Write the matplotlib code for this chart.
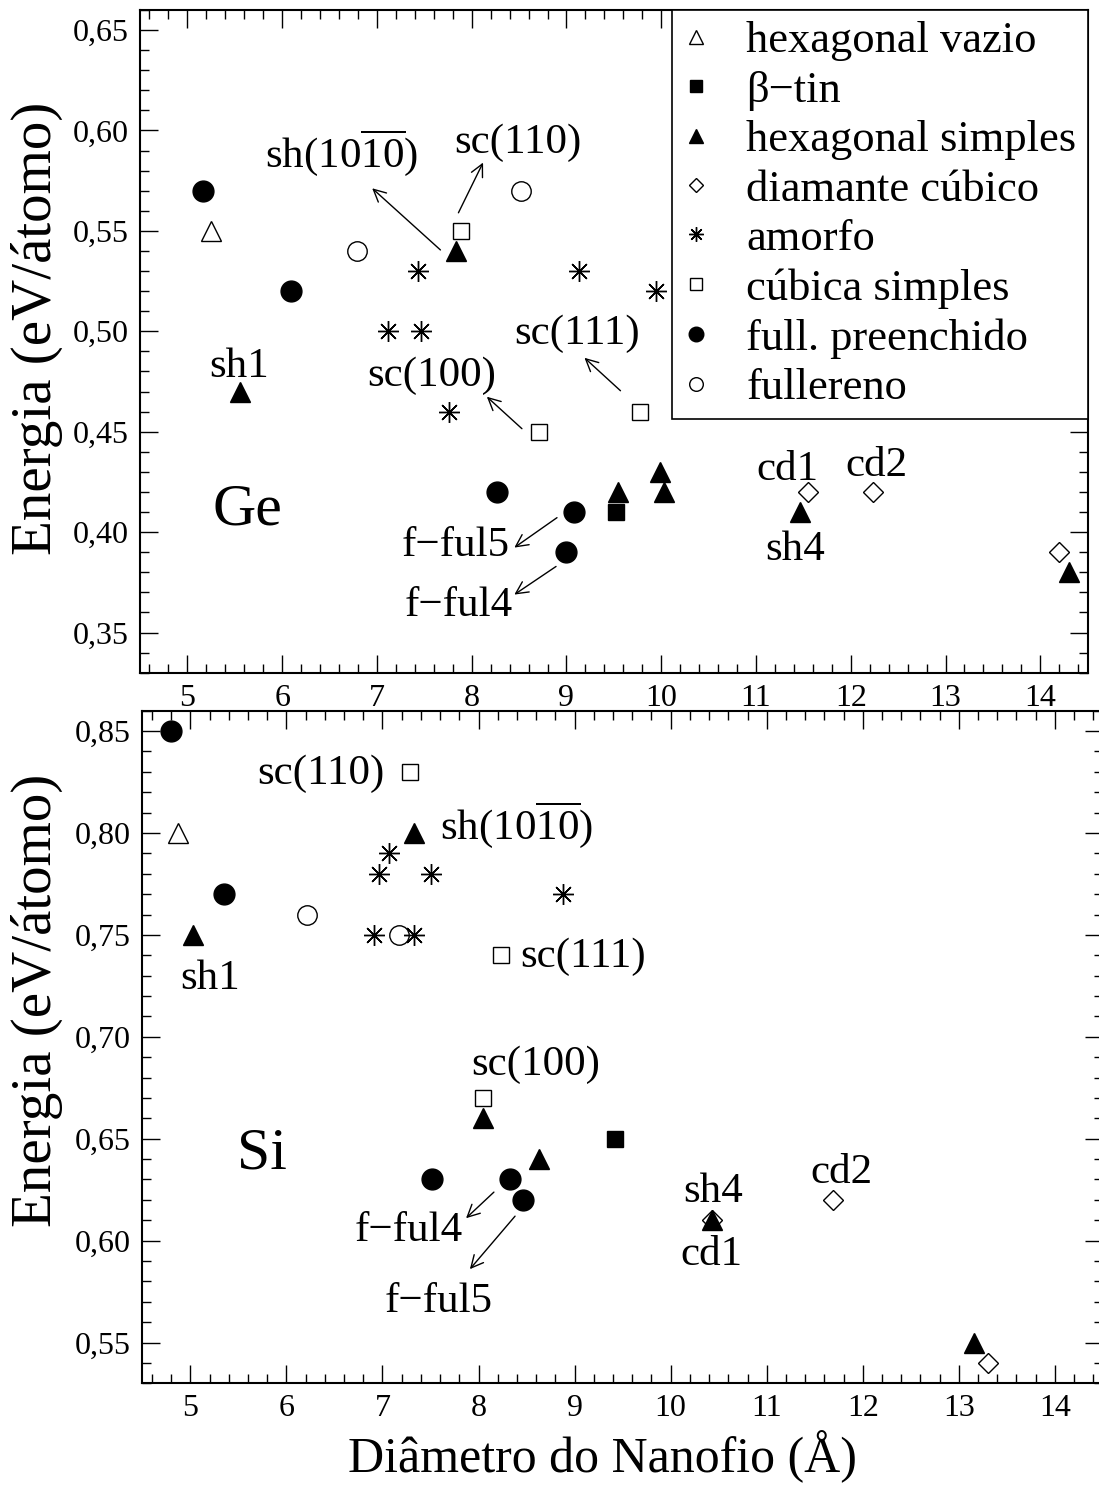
import matplotlib
matplotlib.use('Agg')
from matplotlib import pyplot as plt
from matplotlib.ticker import MultipleLocator, FuncFormatter

plt.rcParams['font.family'] = 'Liberation Serif'
plt.rcParams['mathtext.fontset'] = 'custom'
plt.rcParams['mathtext.rm'] = 'Liberation Serif'
plt.rcParams['mathtext.it'] = 'Liberation Serif:italic'
plt.rcParams['mathtext.bf'] = 'Liberation Serif:bold'

# Legend labels (same order for both panels)
labels = ['hexagonal vazio', 'β−tin', 'hexagonal simples', 'diamante cúbico',
          'amorfo', 'cúbica simples', 'full. preenchido', 'fullereno']

# Ge data (diameter in Angstrom, energy in eV/atom)
ge_hv_x = [5.25]
ge_hv_y = [0.55]
ge_btin_x = [9.52]
ge_btin_y = [0.41]
ge_hs_x = [5.55, 7.83, 9.54, 9.99, 10.03, 11.46, 14.30]
ge_hs_y = [0.47, 0.54, 0.42, 0.43, 0.42, 0.41, 0.38]
ge_cd_x = [11.55, 12.23, 14.20]
ge_cd_y = [0.42, 0.42, 0.39]
ge_am_x = [7.43, 7.12, 7.47, 7.76, 9.13, 9.94]
ge_am_y = [0.53, 0.50, 0.50, 0.46, 0.53, 0.52]
ge_sc_x = [7.89, 8.71, 9.78]
ge_sc_y = [0.55, 0.45, 0.46]
ge_fp_x = [5.16, 6.09, 8.27, 9.08, 9.00]
ge_fp_y = [0.57, 0.52, 0.42, 0.41, 0.39]
ge_fu_x = [6.79, 8.52]
ge_fu_y = [0.54, 0.57]

# Si data
si_hv_x = [4.87]
si_hv_y = [0.80]
si_btin_x = [9.42]
si_btin_y = [0.65]
si_hs_x = [5.03, 7.33, 8.05, 8.63, 10.43, 13.16]
si_hs_y = [0.75, 0.80, 0.66, 0.64, 0.61, 0.55]
si_cd_x = [10.43, 11.69, 13.30]
si_cd_y = [0.61, 0.62, 0.54]
si_am_x = [7.07, 6.96, 7.50, 8.88, 6.91, 7.33]
si_am_y = [0.79, 0.78, 0.78, 0.77, 0.75, 0.75]
si_sc_x = [7.29, 8.23, 8.05]
si_sc_y = [0.83, 0.74, 0.67]
si_fp_x = [4.80, 5.35, 7.52, 8.33, 8.46]
si_fp_y = [0.85, 0.77, 0.63, 0.63, 0.62]
si_fu_x = [6.21, 7.17]
si_fu_y = [0.76, 0.75]

ge_series = [(ge_hv_x, ge_hv_y), (ge_btin_x, ge_btin_y), (ge_hs_x, ge_hs_y), (ge_cd_x, ge_cd_y),
             (ge_am_x, ge_am_y), (ge_sc_x, ge_sc_y), (ge_fp_x, ge_fp_y), (ge_fu_x, ge_fu_y)]
si_series = [(si_hv_x, si_hv_y), (si_btin_x, si_btin_y), (si_hs_x, si_hs_y), (si_cd_x, si_cd_y),
             (si_am_x, si_am_y), (si_sc_x, si_sc_y), (si_fp_x, si_fp_y), (si_fu_x, si_fu_y)]

# marker styles, one per series
styles = [
    dict(marker='^', ms=15, mfc='none', mec='k', mew=1.0),
    dict(marker='s', ms=12, mfc='k', mec='k', mew=1.0),
    dict(marker='^', ms=15, mfc='k', mec='k', mew=1.0),
    dict(marker='D', ms=10, mfc='none', mec='k', mew=1.0),
    dict(marker=(8, 2, 0), ms=15, mfc='none', mec='k', mew=1.0),
    dict(marker='s', ms=12, mfc='none', mec='k', mew=1.0),
    dict(marker='o', ms=15, mfc='k', mec='k', mew=1.0),
    dict(marker='o', ms=14, mfc='none', mec='k', mew=1.0),
]

# annotation texts: (text, x, y, ha)
ge_notes = [
    (r'sh(10$\overline{10}$)', 5.82, 0.5818, 'left'),
    ('sc(110)', 7.82, 0.5887, 'left'),
    ('sc(111)', 8.45, 0.4935, 'left'),
    ('sc(100)', 6.90, 0.4729, 'left'),
    ('sh1', 5.55, 0.4774, 'center'),
    ('f−ful5', 8.40, 0.3880, 'right'),
    ('f−ful4', 8.43, 0.3581, 'right'),
    ('cd1', 11.33, 0.4261, 'center'),
    ('cd2', 12.27, 0.4278, 'center'),
    ('sh4', 11.41, 0.3863, 'center'),
]
ge_arrows = [
    ((7.67, 0.5405), (6.95, 0.5712)),
    ((7.86, 0.559), (8.12, 0.584)),
    ((9.57, 0.4704), (9.19, 0.4868)),
    ((8.53, 0.4515), (8.16, 0.4674)),
    ((8.90, 0.4072), (8.45, 0.3923)),
    ((8.89, 0.3829), (8.45, 0.3689)),
]
si_notes = [
    ('sc(110)', 7.02, 0.8243, 'right'),
    (r'sh(10$\overline{10}$)', 7.60, 0.7973, 'left'),
    ('sh1', 5.21, 0.7237, 'center'),
    ('sc(111)', 8.43, 0.7343, 'left'),
    ('sc(100)', 8.59, 0.6812, 'center'),
    ('f−ful4', 7.84, 0.6000, 'right'),
    ('f−ful5', 8.15, 0.5651, 'right'),
    ('sh4', 10.44, 0.6190, 'center'),
    ('cd1', 10.42, 0.5880, 'center'),
    ('cd2', 11.78, 0.6284, 'center'),
]
si_arrows = [
    ((8.16, 0.6238), (7.87, 0.611)),
    ((8.38, 0.612), (7.91, 0.586)),
]


def comma_fmt(v, pos):
    return '{:.2f}'.format(v).replace('.', ',')


def setup_axes(ax, ylim):
    ax.set_xlim(4.5, 14.5)
    ax.set_ylim(*ylim)
    ax.xaxis.set_major_locator(MultipleLocator(1))
    ax.xaxis.set_minor_locator(MultipleLocator(0.2))
    ax.yaxis.set_major_locator(MultipleLocator(0.05))
    ax.yaxis.set_minor_locator(MultipleLocator(0.01))
    ax.yaxis.set_major_formatter(FuncFormatter(comma_fmt))
    ax.tick_params(which='both', direction='in', top=True, right=True, labelsize=23, width=1.0)
    ax.tick_params(which='major', length=13, pad=8)
    ax.tick_params(which='minor', length=6.5)
    for sp in ax.spines.values():
        sp.set_linewidth(1.5)


def draw_panel(ax, series, notes, arrows):
    handles = []
    for (xs, ys), st, lab in zip(series, styles, labels):
        h, = ax.plot(xs, ys, linestyle='none', label=lab, **st)
        handles.append(h)
    for txt, x, y, ha in notes:
        ax.text(x, y, txt, fontsize=31, ha=ha, va='baseline')
    for tail, tip in arrows:
        ax.annotate('', xy=tip, xytext=tail,
                    arrowprops=dict(arrowstyle='->', lw=1.0, color='k',
                                    shrinkA=0, shrinkB=0, mutation_scale=22))
    return handles


fig = plt.figure(figsize=(10.99, 14.85), dpi=100)
ax1 = fig.add_axes([0.1274, 0.547, 0.8623, 0.4463])
ax2 = fig.add_axes([0.1295, 0.0685, 0.8741, 0.4529])

setup_axes(ax1, (0.33, 0.66))
setup_axes(ax2, (0.53, 0.86))

handles = draw_panel(ax1, ge_series, ge_notes, ge_arrows)
draw_panel(ax2, si_series, si_notes, si_arrows)

ax1.text(5.26, 0.4037, 'Ge', fontsize=43, ha='left', va='baseline')
ax2.text(5.49, 0.6354, 'Si', fontsize=43, ha='left', va='baseline')

leg = ax1.legend(handles=handles, loc='upper right', bbox_to_anchor=(1.0, 1.0),
                 borderaxespad=0, fontsize=32, markerscale=0.7, handlelength=0.59,
                 handletextpad=0.83, labelspacing=0.21, borderpad=0.25,
                 fancybox=False, framealpha=1, edgecolor='k')
leg.get_frame().set_linewidth(1.2)

ax1.set_ylabel('Energia (eV/átomo)', fontsize=41, va='center')
ax1.yaxis.set_label_coords(-0.109, 0.52)
ax2.set_ylabel('Energia (eV/átomo)', fontsize=41, va='center')
ax2.yaxis.set_label_coords(-0.1096, 0.57)
fig.text(0.548, 0.0085, 'Diâmetro do Nanofio (Å)', fontsize=36, ha='center', va='baseline')

fig.savefig('out.png', dpi=100)
